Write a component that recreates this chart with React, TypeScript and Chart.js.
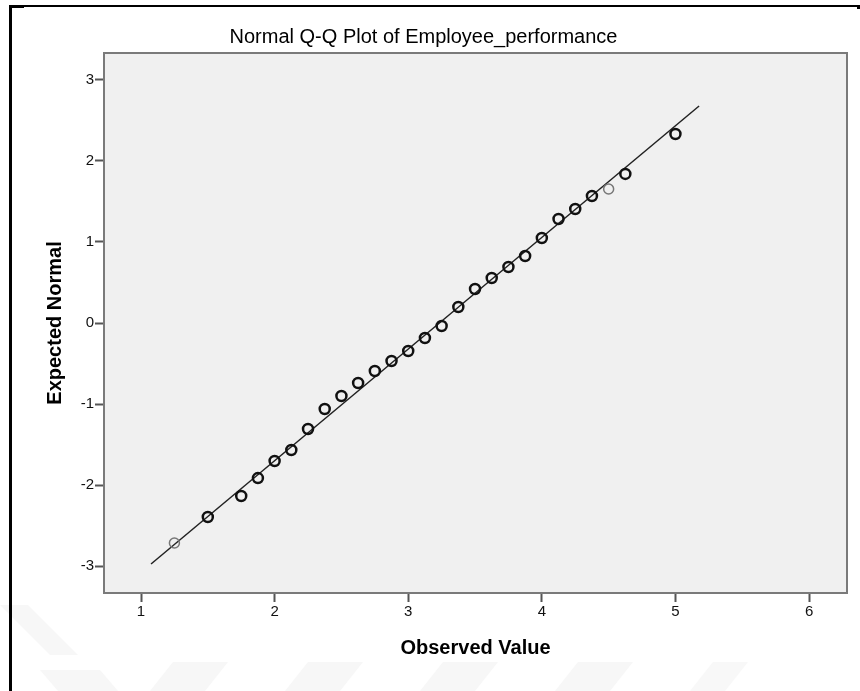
import React, { useEffect, useRef } from 'react';
import { Chart, registerables } from 'chart.js';

Chart.register(...registerables);

const observed = [1.5, 1.75, 1.875, 2, 2.125, 2.25, 2.375, 2.5, 2.625, 2.75, 2.875, 3, 3.125, 3.25, 3.375, 3.5, 3.625, 3.75, 3.875, 4, 4.125, 4.25, 4.375, 4.625, 5];
const expected = [-2.395, -2.136, -1.914, -1.704, -1.568, -1.309, -1.062, -0.901, -0.741, -0.593, -0.469, -0.346, -0.185, -0.037, 0.198, 0.42, 0.556, 0.691, 0.827, 1.049, 1.284, 1.407, 1.568, 1.84, 2.333];
// lighter (single-case) points
const singleObserved = [1.25, 4.5];
const singleExpected = [-2.716, 1.654];
// reference line end points
const lineObserved = [1.075, 5.177];
const lineExpected = [-2.975, 2.679];

const xTicks = [1, 2, 3, 4, 5, 6];
const yTicks = [-3, -2, -1, 0, 1, 2, 3];
const xRange = [0.723, 6.284];
const yRange = [-3.333, 3.333];

const FONT = "'Liberation Sans', Arial, Helvetica, sans-serif";

const plotFrame = {
  id: 'plotFrame',
  beforeDraw(chart: any) {
    const { ctx, chartArea: a } = chart;
    ctx.save();
    ctx.fillStyle = '#f0f0f0';
    ctx.fillRect(a.left, a.top, a.right - a.left, a.bottom - a.top);
    ctx.restore();
  },
  afterDraw(chart: any) {
    const { ctx, chartArea: a } = chart;
    ctx.save();
    ctx.strokeStyle = '#7a7a7a';
    ctx.lineWidth = 2;
    ctx.strokeRect(a.left, a.top, a.right - a.left, a.bottom - a.top);
    ctx.restore();
  },
};

export default function App() {
  const ref = useRef<HTMLCanvasElement | null>(null);

  useEffect(() => {
    if (!ref.current) return;
    const chart = new Chart(ref.current, {
      type: 'scatter',
      data: {
        datasets: [
          {
            type: 'scatter',
            data: observed.map((x, i) => ({ x, y: expected[i] })),
            pointRadius: 5,
            pointBorderWidth: 2.5,
            pointBorderColor: '#111',
            pointBackgroundColor: 'rgba(0,0,0,0)',
          } as any,
          {
            type: 'scatter',
            data: singleObserved.map((x, i) => ({ x, y: singleExpected[i] })),
            pointRadius: 5,
            pointBorderWidth: 1.5,
            pointBorderColor: '#777',
            pointBackgroundColor: 'rgba(0,0,0,0)',
          } as any,
          {
            type: 'line',
            data: lineObserved.map((x, i) => ({ x, y: lineExpected[i] })),
            borderColor: '#222',
            borderWidth: 1.5,
            pointRadius: 0,
            fill: false,
          } as any,
        ],
      },
      options: {
        animation: false,
        responsive: false,
        events: [],
        layout: { padding: { top: 0, right: 13, bottom: 0, left: 0 } },
        plugins: {
          legend: { display: false },
          tooltip: { enabled: false },
          title: {
            display: true,
            text: 'Normal Q-Q Plot of Employee_performance',
            color: '#000',
            font: { family: FONT, size: 20, weight: 'normal', lineHeight: 1.2 },
            padding: { top: 25, bottom: 4 },
          },
        },
        scales: {
          x: {
            type: 'linear',
            min: xRange[0],
            max: xRange[1],
            afterBuildTicks: (s: any) => {
              s.ticks = xTicks.map((v) => ({ value: v }));
            },
            afterFit: (s: any) => {
              s.height = 98;
            },
            grid: {
              display: true,
              drawOnChartArea: false,
              drawTicks: true,
              tickLength: 9,
              tickColor: '#555',
              tickWidth: 2,
            },
            border: { display: false },
            ticks: {
              color: '#111',
              padding: 1,
              font: { family: FONT, size: 15 },
              callback: (v: any) => String(v),
            },
            title: {
              display: true,
              text: 'Observed Value',
              color: '#000',
              font: { family: FONT, size: 20, weight: 'bold', lineHeight: 1.2 },
              padding: { top: 0, bottom: 31 },
            },
          },
          y: {
            type: 'linear',
            min: yRange[0],
            max: yRange[1],
            afterBuildTicks: (s: any) => {
              s.ticks = yTicks.map((v) => ({ value: v }));
            },
            afterFit: (s: any) => {
              s.width = 104;
            },
            grid: {
              display: true,
              drawOnChartArea: false,
              drawTicks: true,
              tickLength: 9,
              tickColor: '#555',
              tickWidth: 2,
            },
            border: { display: false },
            ticks: {
              color: '#111',
              padding: 1,
              font: { family: FONT, size: 15 },
              callback: (v: any) => String(v),
            },
            title: {
              display: true,
              text: 'Expected Normal',
              color: '#000',
              font: { family: FONT, size: 20, weight: 'bold', lineHeight: 1.2 },
              padding: { top: 43, bottom: 0 },
            },
          },
        },
      },
      plugins: [plotFrame],
    });
    return () => chart.destroy();
  }, []);

  return (
    <div style={{ position: 'absolute', left: 0, top: 0, width: 860, height: 691, background: '#fff', overflow: 'hidden' }}>
      <svg width={860} height={691} style={{ position: 'absolute', left: 0, top: 0 }}>
        <polygon points="0,605 28,605 78,655 50,655" fill="#f7f7f7" />
        <polygon points="40,670 100,670 118,691 58,691" fill="#f7f7f7" />
        <polygon points="150,691 205,691 228,662 173,662" fill="#f7f7f7" />
        <polygon points="285,691 340,691 363,662 308,662" fill="#f7f7f7" />
        <polygon points="420,691 475,691 498,662 443,662" fill="#f7f7f7" />
        <polygon points="555,691 610,691 633,662 578,662" fill="#f7f7f7" />
        <polygon points="690,691 725,691 748,662 713,662" fill="#f8f8f8" />
      </svg>
      <canvas
        ref={ref}
        width={860}
        height={691}
        style={{ position: 'absolute', left: 0, top: 0, width: 860, height: 691 }}
      />
      <div style={{ position: 'absolute', left: 9, top: 5, width: 851, height: 0, borderTop: '2px solid #000' }} />
      <div style={{ position: 'absolute', left: 9, top: 5, width: 0, height: 686, borderLeft: '3px solid #000' }} />
      <div style={{ position: 'absolute', left: 9, top: 5, width: 15, height: 3, background: '#000' }} />
      <div style={{ position: 'absolute', left: 857, top: 5, width: 3, height: 4, background: '#000' }} />
    </div>
  );
}
